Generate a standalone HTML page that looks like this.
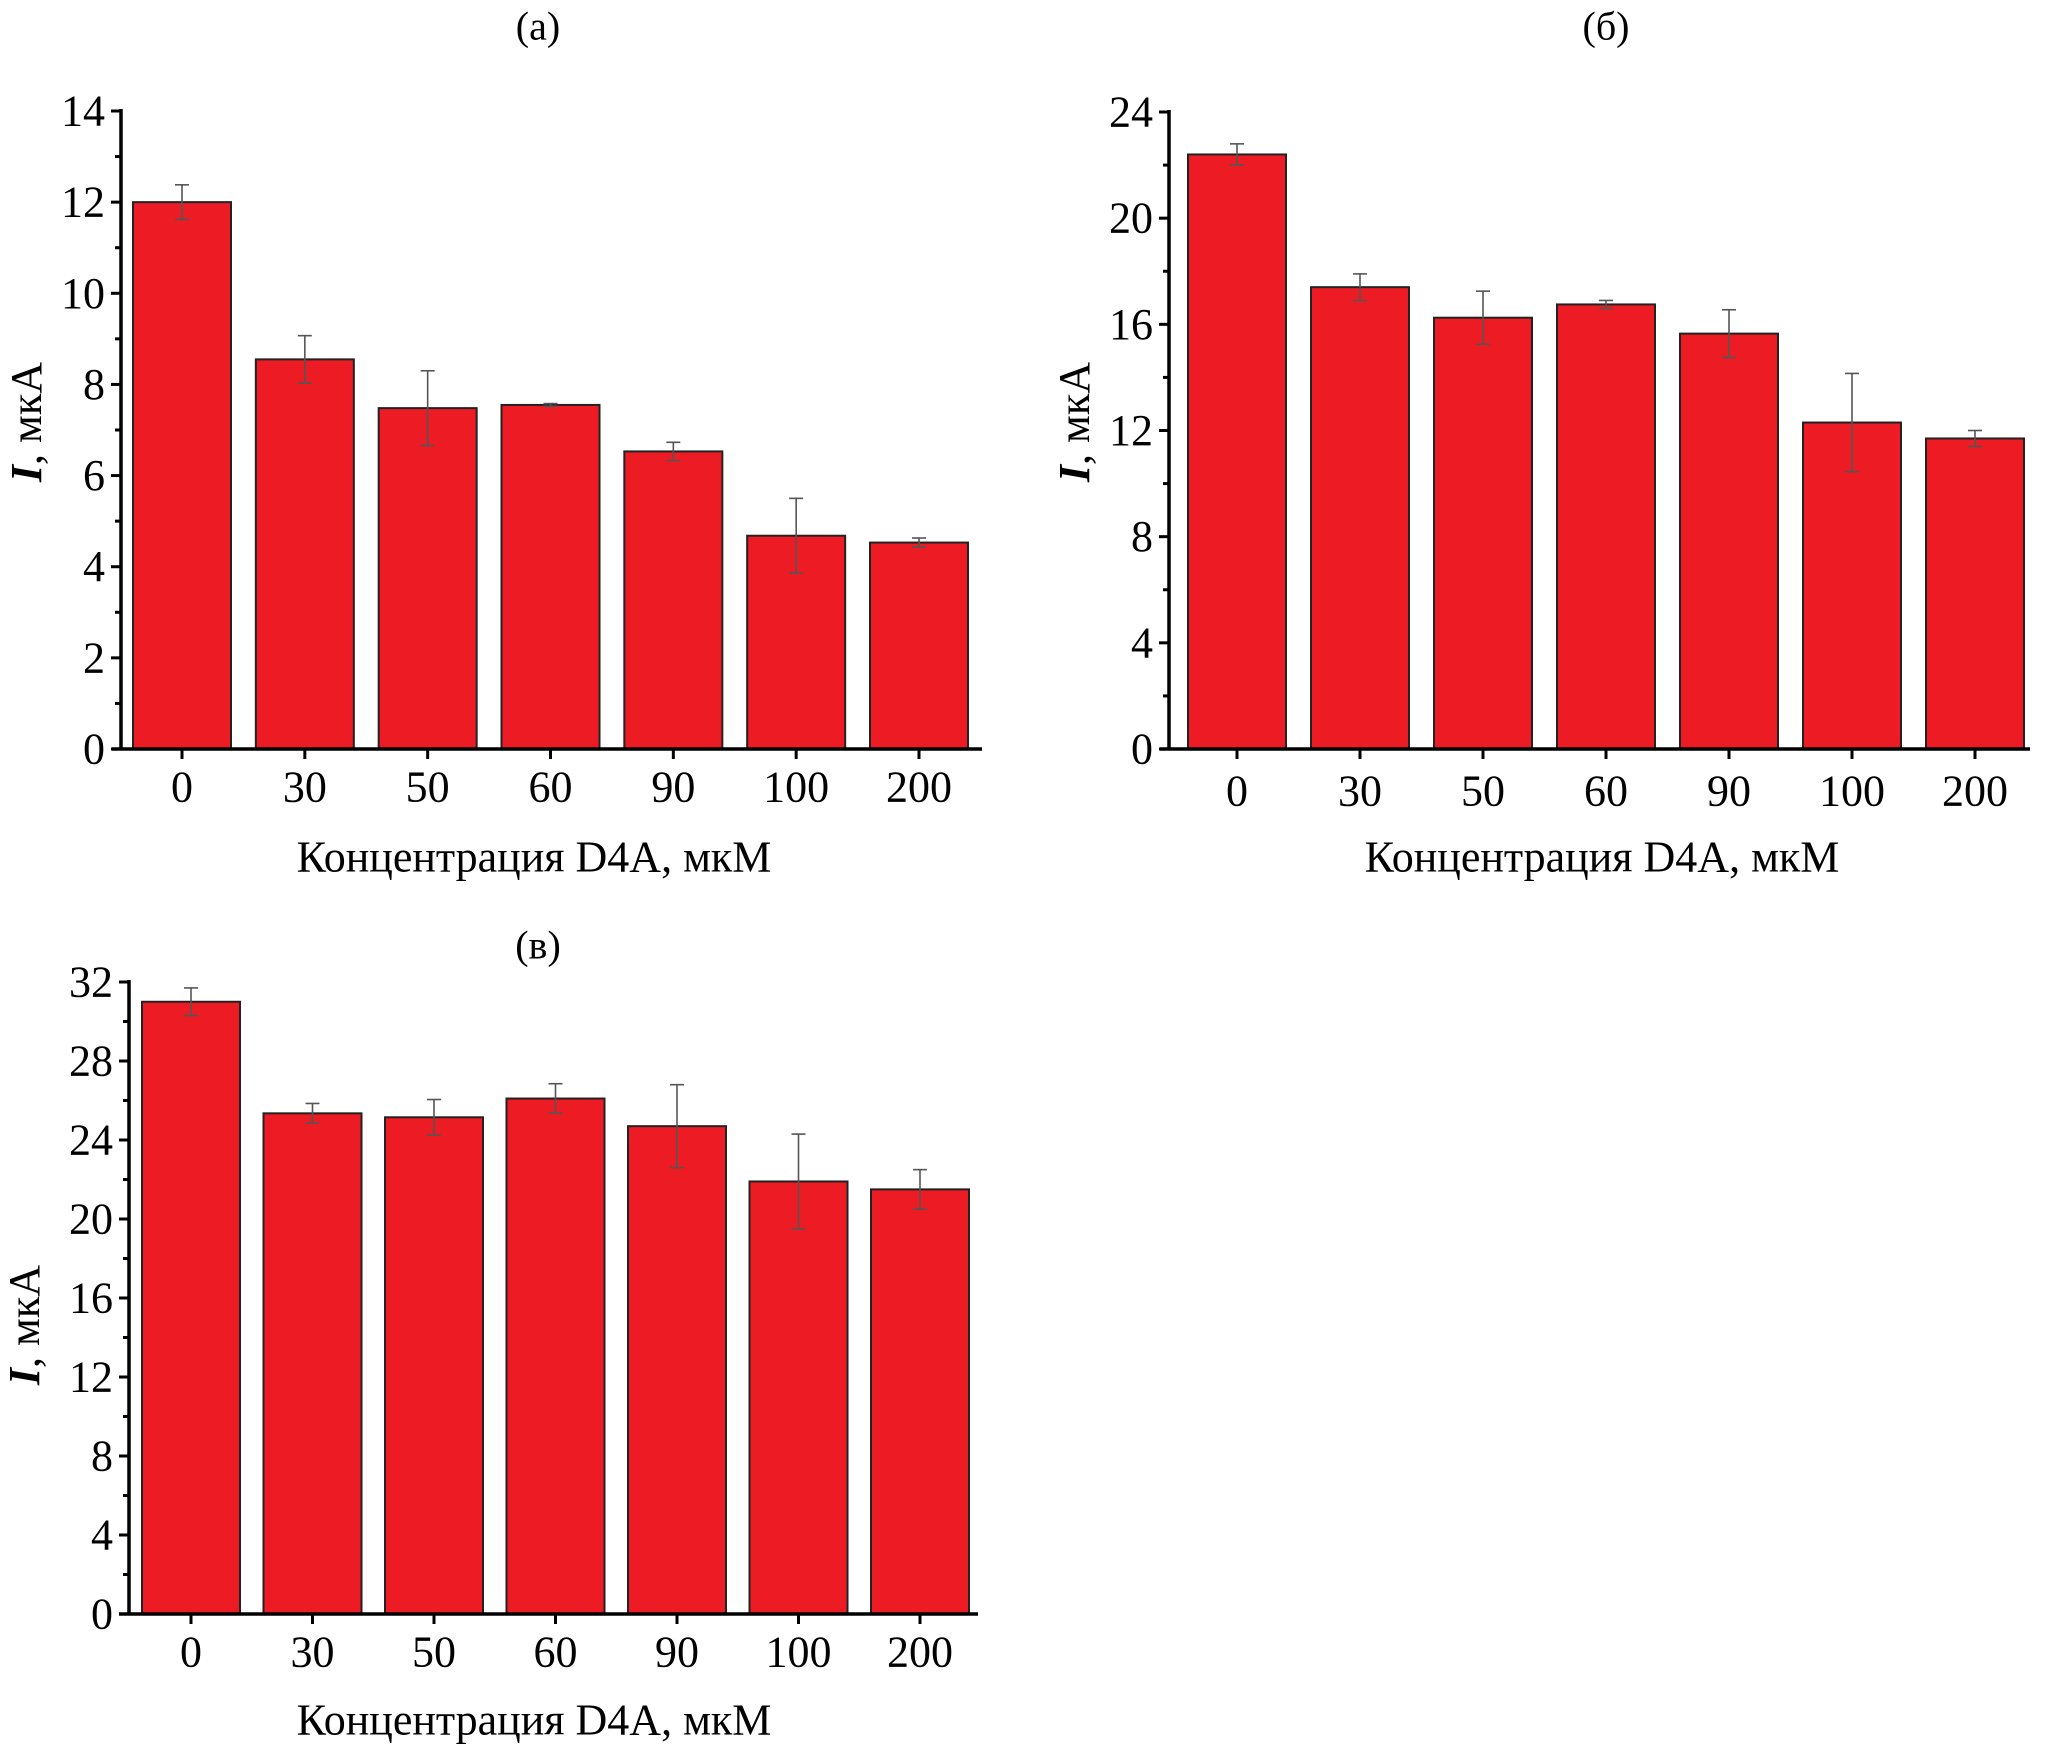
<!DOCTYPE html>
<html><head><meta charset="utf-8">
<style>
html,body{margin:0;padding:0;background:#fff;}
svg{display:block;font-family:"Liberation Serif",serif;}
</style></head>
<body>
<svg id="fig" width="2067" height="1760" viewBox="0 0 2067 1760" xmlns="http://www.w3.org/2000/svg"></svg>
<script>
const categories = ["0","30","50","60","90","100","200"];
const valuesA = [12.0, 8.55, 7.48, 7.55, 6.53, 4.68, 4.53];
const errorsA = [0.38, 0.52, 0.82, 0.03, 0.2, 0.82, 0.1];
const ticksA = [0,2,4,6,8,10,12,14];
const valuesB = [22.4, 17.4, 16.25, 16.75, 15.65, 12.3, 11.7];
const errorsB = [0.4, 0.5, 1.0, 0.15, 0.9, 1.85, 0.3];
const ticksB = [0,4,8,12,16,20,24];
const valuesC = [31.0, 25.35, 25.15, 26.1, 24.7, 21.9, 21.5];
const errorsC = [0.7, 0.5, 0.9, 0.75, 2.1, 2.4, 1.0];
const ticksC = [0,4,8,12,16,20,24,28,32];

const NS = "http://www.w3.org/2000/svg";
const fig = document.getElementById('fig');
function mk(tag, attrs, parent, text){
  const e = document.createElementNS(NS, tag);
  for (const k in attrs) e.setAttribute(k, attrs[k]);
  if (text !== undefined) e.textContent = text;
  parent.appendChild(e);
  return e;
}
function drawChart(cfg, vals, errs, ticks){
  const g = mk('g', {}, fig);
  
  
  const yMax = ticks[ticks.length-1];
  const y = v => cfg.y0 - (v / yMax) * (cfg.y0 - cfg.yTop);
  const step = (cfg.c1 - cfg.c0) / (categories.length - 1);
  const x = i => cfg.c0 + i * step;
  // bars
  vals.forEach((v,i)=>{
    const r = mk('rect', {x: x(i)-cfg.bw/2, y: y(v), width: cfg.bw, height: cfg.y0 - y(v), fill:'#ED1C24', stroke:'#222', 'stroke-width':2}, g);
    
    
  });
  // error bars
  errs.forEach((e,i)=>{
    const eg = mk('g', {stroke:'#555', 'stroke-width':1.6}, g);
    
    
    const cx = x(i), top = y(vals[i]+e), bot = y(vals[i]-e);
    mk('line', {x1:cx, x2:cx, y1:top, y2:bot}, eg);
    mk('line', {x1:cx-7, x2:cx+7, y1:top, y2:top}, eg);
    mk('line', {x1:cx-7, x2:cx+7, y1:bot, y2:bot}, eg);
  });
  // axes
  const ax = mk('g', {stroke:'#000', 'stroke-width':3.5}, g);
  
  
  mk('line', {x1:cfg.ax, x2:cfg.ax, y1:cfg.yTop-2, y2:cfg.y0}, ax);
  mk('line', {x1:cfg.xl, x2:cfg.xr, y1:cfg.y0, y2:cfg.y0}, ax);
  const tg = mk('g', {stroke:'#000', 'stroke-width':3}, g);
  
  
  const minorStep = (ticks[1]-ticks[0]) / 2;
  for (let v = 0; v <= yMax + 1e-9; v += minorStep){
    const major = ticks.some(t => Math.abs(t - v) < 1e-9);
    mk('line', {x1:cfg.ax - (major ? 10 : 6), x2:cfg.ax, y1:y(v), y2:y(v)}, tg);
  }
  categories.forEach((c,i)=>{ mk('line', {x1:x(i), x2:x(i), y1:cfg.y0, y2:cfg.y0+10}, tg); });
  // labels
  ticks.forEach(t=>{
    const l = mk('text', {x: cfg.ax - 16, y: y(t), 'font-size':44, 'text-anchor':'end', 'dominant-baseline':'central'}, g, String(t));
    
    
  });
  categories.forEach((c,i)=>{
    const l = mk('text', {x: x(i), y: cfg.tickY, 'font-size':44, 'text-anchor':'middle', 'dominant-baseline':'central'}, g, c);
    
    
  });
  const xt = mk('text', {x: cfg.xlX, y: cfg.xlY, 'font-size':44, 'text-anchor':'middle', 'dominant-baseline':'central'}, g, 'Концентрация D4A, мкМ');
  
  
  const yt = mk('text', {x: 0, y: 0, 'font-size':44, 'text-anchor':'middle', 'dominant-baseline':'central', transform:`translate(${cfg.ylX},${cfg.ylY}) rotate(-90)`}, g);
  
  
  mk('tspan', {'font-style':'italic', 'font-weight':'bold'}, yt, 'I');
  mk('tspan', {}, yt, ', мкА');
  const tt = mk('text', {x: cfg.tX, y: cfg.tY, 'font-size':40, 'text-anchor':'middle', 'dominant-baseline':'central'}, g, cfg.title);
  
  
}
drawChart({name:'chart-a', title:'(а)', ax:121, yTop:111, y0:749, xl:112, xr:982, c0:182, c1:919, bw:98, tickY:787, xlX:534, xlY:857, ylX:26, ylY:422, tX:538, tY:26}, valuesA, errorsA, ticksA);
drawChart({name:'chart-b', title:'(б)', ax:1169, yTop:112, y0:749, xl:1160, xr:2030, c0:1237, c1:1975, bw:98, tickY:791, xlX:1602, xlY:857, ylX:1074, ylY:422, tX:1606, tY:26}, valuesB, errorsB, ticksB);
drawChart({name:'chart-c', title:'(в)', ax:129, yTop:982, y0:1614, xl:119, xr:978, c0:191, c1:920, bw:98, tickY:1652, xlX:534, xlY:1720, ylX:24, ylY:1325, tX:538, tY:945}, valuesC, errorsC, ticksC);
</script>
</body></html>
